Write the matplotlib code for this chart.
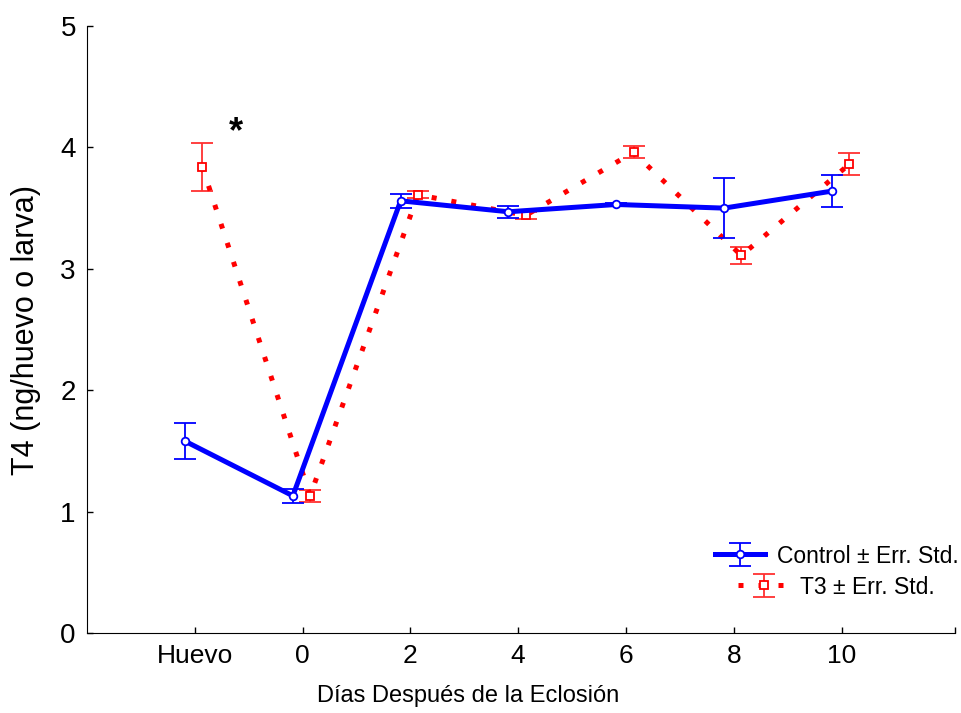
import matplotlib
matplotlib.use("Agg")
import matplotlib.pyplot as plt
import numpy as np

plt.rcParams['font.family'] = ['Liberation Sans', 'DejaVu Sans']

categories = ["Huevo", "0", "2", "4", "6", "8", "10"]
control_mean = [1.58, 1.13, 3.56, 3.47, 3.53, 3.50, 3.64]
control_err = [0.15, 0.06, 0.06, 0.05, 0.01, 0.25, 0.13]
t3_mean = [3.84, 1.13, 3.61, 3.44, 3.96, 3.11, 3.86]
t3_err = [0.20, 0.05, 0.03, 0.03, 0.05, 0.07, 0.09]

x = np.arange(len(categories))
fig = plt.figure(figsize=(9.61, 7.13), dpi=100)
ax = fig.add_axes([0.0905, 0.1122, 0.903, 0.8513])

c1 = ax.errorbar(x - 0.09, control_mean, yerr=control_err, color='#0000ff', lw=3.6,
                 marker='o', ms=5.5, mfc='white', mec='#0000ff', mew=1.3,
                 elinewidth=1.3, capsize=8, capthick=1.3,
                 label='Control \u00b1 Err. Std.', zorder=3)
c2 = ax.errorbar(x + 0.07, t3_mean, yerr=t3_err, color='#ff0000', lw=3.6, ls=(0, (1, 3.0)),
                 marker='s', ms=6, mfc='white', mec='#ff0000', mew=1.3,
                 ecolor='#ff3030', elinewidth=1.3, capsize=8, capthick=1.3,
                 label='T3 \u00b1 Err. Std.', zorder=2)

ax.text(0.38, 4.12, '*', fontsize=26, fontweight='bold', ha='center', va='center')

ax.set_xlim(-1, 7.05)
ax.set_ylim(0, 5)
ax.set_xticks(list(x) + [7.05])
ax.set_xticklabels(categories + [''], fontsize=19)
ax.set_yticks([0, 1, 2, 3, 4, 5])
ax.set_yticklabels(['0', '1', '2', '3', '4', '5'], fontsize=20)
ax.tick_params(axis='both', direction='in', length=4, width=1, pad=8)
ax.spines['top'].set_visible(False)
ax.spines['right'].set_visible(False)
ax.set_ylabel('T4 (ng/huevo o larva)', fontsize=22, labelpad=14)
ax.set_xlabel('Días Después de la Eclosión', fontsize=17, labelpad=14)
ax.xaxis.set_label_coords((468 - 87) / 868, -0.085)

cx = (837 - 87) / 868
leg1 = ax.legend([c1], ['Control \u00b1 Err. Std.'], loc='center',
                 bbox_to_anchor=(cx, (633 - 556) / 607), frameon=False,
                 fontsize=16.5, handlelength=2.2, handletextpad=0.5)
ax.add_artist(leg1)
leg2 = ax.legend([c2], ['T3 \u00b1 Err. Std.'], loc='center',
                 bbox_to_anchor=(cx, (633 - 587) / 607), frameon=False,
                 fontsize=16.5, handlelength=2.2, handletextpad=0.5)

fig.savefig('out.png', dpi=100)
